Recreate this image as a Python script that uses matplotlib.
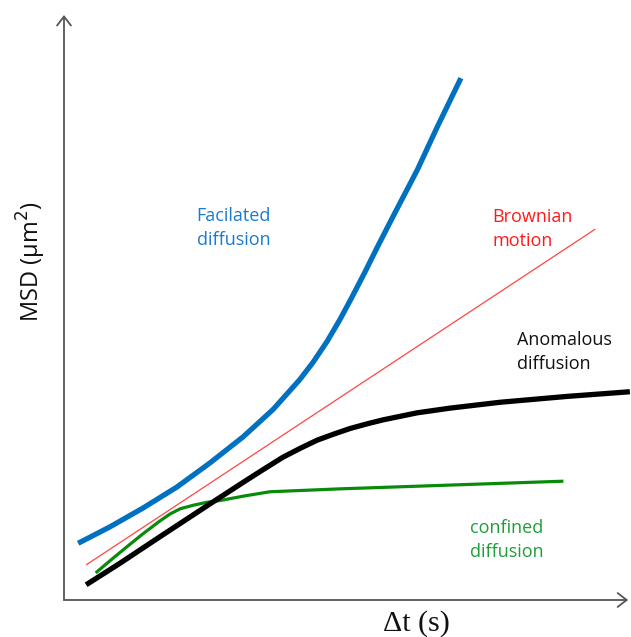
import matplotlib
matplotlib.use("Agg")
import matplotlib.pyplot as plt

# Data (arbitrary units)
t_facilitated = [0.25, 0.81, 1.39, 1.99, 2.57, 3.16, 3.42, 3.69, 3.93, 4.16, 4.39, 4.64,
                 4.87, 5.08, 5.31, 5.52, 5.80, 6.23, 6.58, 7.00]
msd_facilitated = [0.97, 1.25, 1.57, 1.93, 2.34, 2.79, 3.02, 3.26, 3.52, 3.77, 4.06, 4.42,
                   4.80, 5.18, 5.61, 6.02, 6.55, 7.35, 8.08, 8.92]

t_brownian = [0.39, 9.37]
msd_brownian = [0.60, 6.34]

t_anomalous = [0.39, 0.99, 1.69, 2.57, 3.19, 3.53, 3.86, 4.16, 4.46, 4.74, 5.04, 5.34,
               5.63, 6.23, 6.81, 7.69, 8.87, 9.98]
msd_anomalous = [0.26, 0.63, 1.08, 1.64, 2.03, 2.24, 2.44, 2.59, 2.73, 2.83, 2.93, 3.01,
                 3.08, 3.20, 3.28, 3.38, 3.48, 3.56]

t_confined = [0.58, 0.81, 1.11, 1.39, 1.69, 1.87, 2.05, 2.28, 2.52, 2.75, 3.19, 3.63,
              4.87, 8.78]
msd_confined = [0.48, 0.67, 0.91, 1.13, 1.35, 1.47, 1.56, 1.62, 1.67, 1.70, 1.78, 1.85,
                1.90, 2.03]

labels = ["Facilated\ndiffusion", "Brownian\nmotion", "Anomalous\ndiffusion", "confined\ndiffusion"]
label_t = [2.34, 7.55, 7.99, 7.16]
label_msd = [6.36, 6.34, 4.24, 1.03]

col_blue = "#0070C0"
col_red = "#FF4545"
col_black = "#000000"
col_green = "#0A8A0A"
text_cols = ["#1A7BD0", "#FF1A1A", "#111111", "#1E9E3A"]

fig = plt.figure(figsize=(6.31, 6.37), dpi=100)
ax = fig.add_axes([64/631, 37/637, 567/631, 585/637])
ax.set_xlim(0, 10)
ax.set_ylim(0, 10)
for s in ax.spines.values():
    s.set_visible(False)
ax.set_xticks([])
ax.set_yticks([])

ax.plot(t_brownian, msd_brownian, color=col_red, lw=0.9, solid_capstyle="butt")
ax.plot(t_confined, msd_confined, color=col_green, lw=2.3, solid_joinstyle="round")
ax.plot(t_anomalous, msd_anomalous, color=col_black, lw=3.8, solid_joinstyle="round", solid_capstyle="butt")
ax.plot(t_facilitated, msd_facilitated, color=col_blue, lw=3.8, solid_joinstyle="round", solid_capstyle="butt")

for lab, tx, ty, c in zip(labels, label_t, label_msd, text_cols):
    ax.text(tx, ty, lab, color=c, fontsize=13, family="Open Sans",
            ha="left", va="center", linespacing=1.4)

arrow = dict(arrowstyle="->,head_length=0.65,head_width=0.5", color="#555555",
             lw=1.3, mutation_scale=10, shrinkA=0, shrinkB=0)
ax.annotate("", xy=(0, 1), xytext=(0, 0), xycoords="axes fraction",
            textcoords="axes fraction", arrowprops=arrow, annotation_clip=False)
ax.annotate("", xy=(0.995, 0), xytext=(0, 0), xycoords="axes fraction",
            textcoords="axes fraction", arrowprops=arrow, annotation_clip=False)

fig.text(31/631, 1 - 262/637, "MSD (μm$^2$)", rotation=90, ha="center", va="center",
         fontsize=17, family="Open Sans", color="#111111")
fig.text(416/631, 1 - 624/637, "Δt (s)", ha="center", va="center",
         fontsize=21.5, family="Liberation Serif", color="#111111")

fig.savefig("out.png", dpi=100)
